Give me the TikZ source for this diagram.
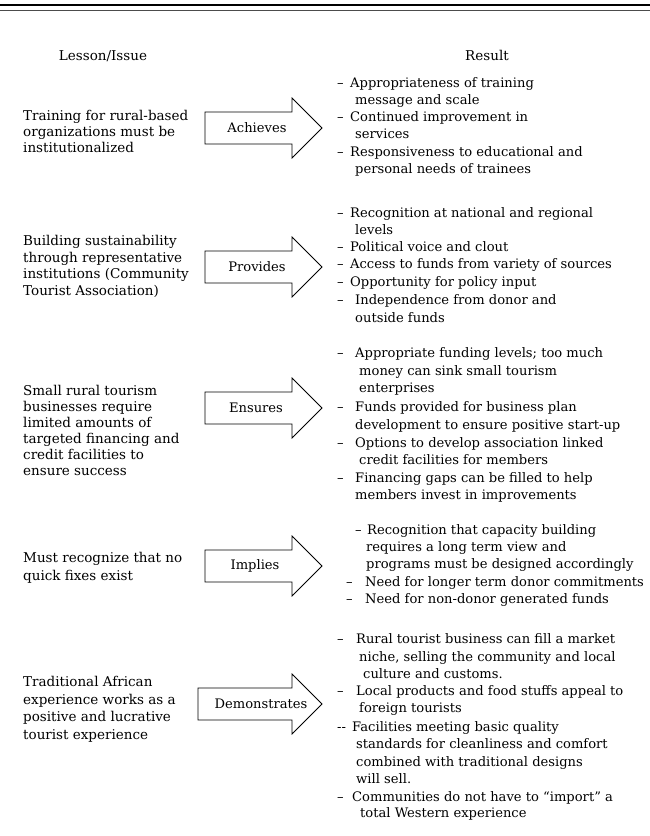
\documentclass[tikz,border=0pt]{standalone}
\usepackage{fontspec}
\setmainfont{DejaVu Serif}
\newcommand\fsz{\fontsize{13.1}{16}\selectfont}
\newcommand\lsz{\fontsize{13.5}{17}\selectfont}
\newcommand\dsh[1][13pt]{\makebox[#1][l]{–}}
\newcommand\barrow[5]{%
  \draw[arr] (#4,#2-16) -- (292,#2-16) -- (292,#2-30) -- (322,#2) -- (292,#2+30) -- (292,#2+16) -- (#4,#2+16) -- cycle;
  \node[lab] (#1) at (#5,#2) {#3};}
\begin{document}
\begin{tikzpicture}[x=1pt,y=-1pt,
  every node/.style={inner sep=0pt},
  txt/.style={anchor=base west,font=\fsz},
  ltxt/.style={anchor=base west,font=\lsz},
  head/.style={anchor=base,font=\lsz},
  lab/.style={font=\fsz},
  arr/.style={draw=black,line width=0.8pt,line join=miter}]
\useasboundingbox (0,0) rectangle (650,836);
\draw[line width=2.2pt] (0,5) -- (650,5);
\draw[line width=1.1pt,black!70] (0,10.5) -- (650,10.5);

\node[head] (h1) at (103,60) {Lesson/Issue};
\node[head] (h2) at (487,60) {Result};

% arrows
\barrow{a1}{128}{Achieves}{205}{257}
\barrow{a2}{267}{Provides}{205}{257}
\barrow{a3}{408}{Ensures}{205}{256}
\barrow{a4}{566}{Implies}{205}{255}
\barrow{a5}{704}{Demonstrates}{198}{261}

% left column
\node[ltxt] (l1a) at (23,120.5) {Training for rural-based};
\node[ltxt] (l1b) at (23,136.5) {organizations must be};
\node[ltxt] (l1c) at (23,152.5) {institutionalized};

\node[ltxt] (l2a) at (23,245.5) {Building sustainability};
\node[ltxt] (l2b) at (23,262) {through representative};
\node[ltxt] (l2c) at (23,278.5) {institutions (Community};
\node[ltxt] (l2d) at (23,295) {Tourist Association)};

\node[ltxt] (l3a) at (23,395.5) {Small rural tourism};
\node[ltxt] (l3b) at (23,411.5) {businesses require};
\node[ltxt] (l3c) at (23,427.5) {limited amounts of};
\node[ltxt] (l3d) at (23,443.5) {targeted financing and};
\node[ltxt] (l3e) at (23,459.5) {credit facilities to};
\node[ltxt] (l3f) at (23,475.5) {ensure success};

\node[ltxt] (l4a) at (23,562.5) {Must recognize that no};
\node[ltxt] (l4b) at (23,580.5) {quick fixes exist};

\node[ltxt] (l5a) at (23,686.5) {Traditional African};
\node[ltxt] (l5b) at (23,704.5) {experience works as a};
\node[ltxt] (l5c) at (23,721.5) {positive and lucrative};
\node[ltxt] (l5d) at (23,739.5) {tourist experience};

% right column
\node[txt] (r1a) at (337,87) {\dsh Appropriateness of training};
\node[txt] (r1b) at (355,104) {message and scale};
\node[txt] (r1c) at (337,121) {\dsh Continued improvement in};
\node[txt] (r1d) at (355,138) {services};
\node[txt] (r1e) at (337,156) {\dsh Responsiveness to educational and};
\node[txt] (r1f) at (355,173) {personal needs of trainees};

\node[txt] (r2a) at (337,217) {\dsh Recognition at national and regional};
\node[txt] (r2b) at (355,234) {levels};
\node[txt] (r2c) at (337,251) {\dsh Political voice and clout};
\node[txt] (r2d) at (337,268) {\dsh Access to funds from variety of sources};
\node[txt] (r2e) at (337,286) {\dsh Opportunity for policy input};
\node[txt] (r2f) at (337,304) {\dsh[18pt]Independence from donor and};
\node[txt] (r2g) at (355,322) {outside funds};

\node[txt] (r3a) at (337,357) {\dsh[18pt]Appropriate funding levels; too much};
\node[txt] (r3b) at (359,375) {money can sink small tourism};
\node[txt] (r3c) at (359,392) {enterprises};
\node[txt] (r3d) at (337,411) {\dsh[18pt]Funds provided for business plan};
\node[txt] (r3e) at (355,429) {development to ensure positive start-up};
\node[txt] (r3f) at (337,447) {\dsh[18pt]Options to develop association linked};
\node[txt] (r3g) at (359,464) {credit facilities for members};
\node[txt] (r3h) at (337,482) {\dsh[18pt]Financing gaps can be filled to help};
\node[txt] (r3i) at (355,499) {members invest in improvements};

\node[txt] (r4a) at (355,534) {\dsh[12pt]Recognition that capacity building};
\node[txt] (r4b) at (366,551) {requires a long term view and};
\node[txt] (r4c) at (366,568) {programs must be designed accordingly};
\node[txt] (r4d) at (346,586) {\dsh[19pt]Need for longer term donor commitments};
\node[txt] (r4e) at (346,603) {\dsh[19pt]Need for non-donor generated funds};

\node[txt] (r5a) at (337,643) {\dsh[19pt]Rural tourist business can fill a market};
\node[txt] (r5b) at (359,661) {niche, selling the community and local};
\node[txt] (r5c) at (363,678) {culture and customs.};
\node[txt] (r5d) at (337,695) {\dsh[19pt]Local products and food stuffs appeal to};
\node[txt] (r5e) at (359,712) {foreign tourists};
\node[txt] (r5f) at (337,731) {\makebox[15pt][l]{-{}-}Facilities meeting basic quality};
\node[txt] (r5g) at (356,748) {standards for cleanliness and comfort};
\node[txt] (r5h) at (356,766) {combined with traditional designs};
\node[txt] (r5i) at (356,783) {will sell.};
\node[txt] (r5j) at (337,801) {\dsh[15pt]Communities do not have to “import” a};
\node[txt] (r5k) at (360,817) {total Western experience};
\end{tikzpicture}
\end{document}
